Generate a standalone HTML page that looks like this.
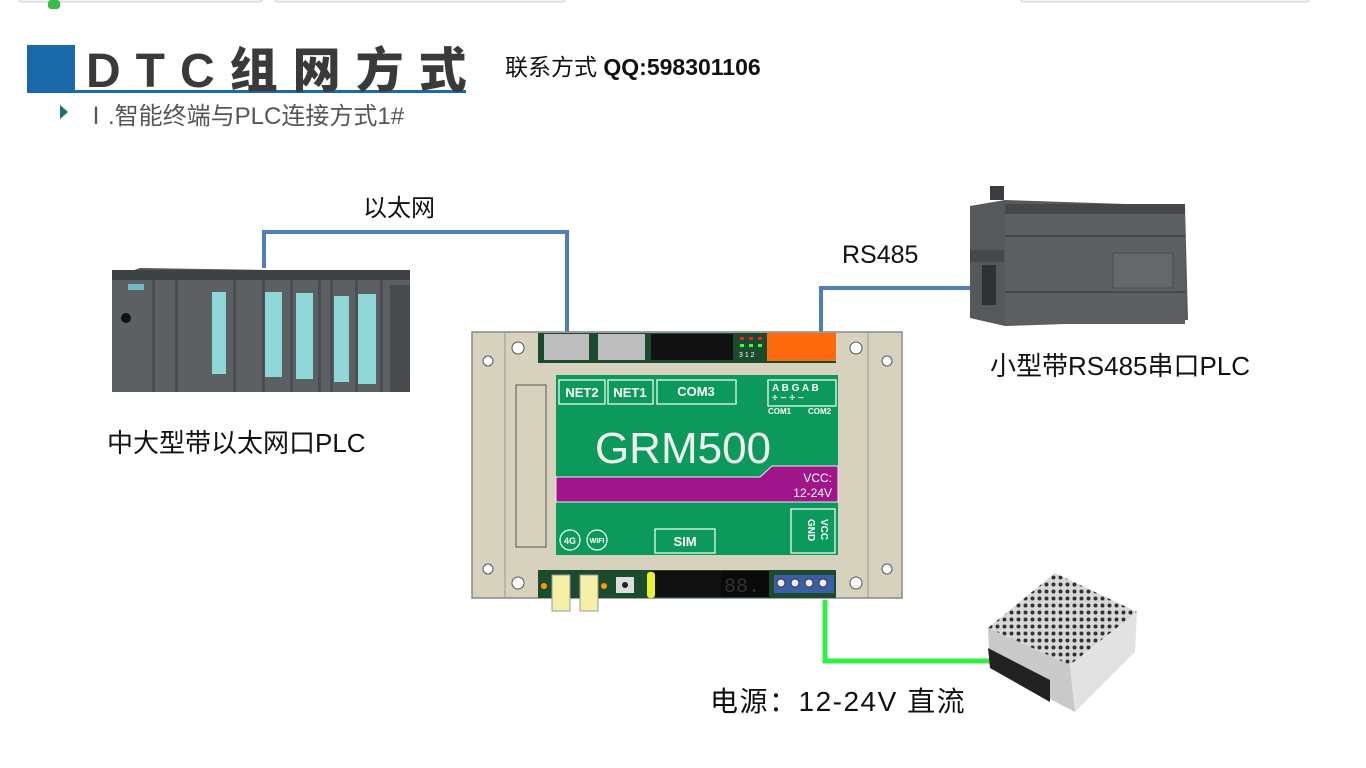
<!DOCTYPE html>
<html><head><meta charset="utf-8"><style>
html,body{margin:0;padding:0;background:#fff;}
body{width:1366px;height:768px;position:relative;overflow:hidden;font-family:"Liberation Sans","Noto Sans CJK SC",sans-serif;}
.t{position:absolute;white-space:nowrap;color:#111;}
</style></head><body>
<svg width="1366" height="768" style="position:absolute;left:0;top:0" xmlns="http://www.w3.org/2000/svg">
<defs>
<pattern id="holes" width="7" height="7" patternUnits="userSpaceOnUse"><rect width="7" height="7" fill="#d8d8d8"/><circle cx="3.5" cy="3.5" r="2" fill="#333"/></pattern>
</defs>
<rect x="18" y="-6" width="245" height="8" rx="4" fill="#f4f4f4" stroke="#ccc"/>
<rect x="274" y="-6" width="292" height="8" rx="4" fill="#f4f4f4" stroke="#ccc"/>
<rect x="1020" y="-6" width="290" height="8" rx="4" fill="#f4f4f4" stroke="#ccc"/>
<rect x="48" y="0" width="12" height="9" rx="3" fill="#3cbb4a"/>
<rect x="27" y="45" width="48" height="47" fill="#1a6aab"/>
<rect x="27" y="90" width="439" height="3" fill="#1a6aab"/>
<polygon points="60,105 68,112 60,119" fill="#1f6f74"/>
<polyline points="264,268 264,232 567,232 567,332" fill="none" stroke="#4f7fb8" stroke-width="4"/>
<polyline points="821,332 821,288 982,288" fill="none" stroke="#4f7fb8" stroke-width="4"/>
<polyline points="825,600 825,661 992,661" fill="none" stroke="#33ee44" stroke-width="5"/>
<polygon points="112,278 140,268 400,272 410,285 410,392 112,392" fill="#55595c"/>
<rect x="112" y="278" width="298" height="114" fill="#5c6063"/>
<rect x="112" y="270" width="298" height="10" fill="#3e4244"/>
<g fill="#4a4e51"><rect x="152" y="280" width="3" height="112"/><rect x="175" y="280" width="3" height="112"/><rect x="233" y="280" width="3" height="112"/><rect x="262" y="280" width="3" height="112"/><rect x="290" y="280" width="3" height="112"/><rect x="318" y="280" width="3" height="112"/><rect x="330" y="280" width="3" height="112"/><rect x="355" y="280" width="3" height="112"/><rect x="380" y="280" width="3" height="112"/></g>
<g fill="#8fd6d6"><rect x="212" y="292" width="14" height="82"/><rect x="265" y="292" width="17" height="85"/><rect x="296" y="293" width="17" height="86"/><rect x="334" y="296" width="15" height="86"/><rect x="358" y="294" width="18" height="90"/></g>
<rect x="128" y="284" width="16" height="6" fill="#6fb8c8"/>
<circle cx="126" cy="318" r="5" fill="#111"/>
<rect x="390" y="285" width="20" height="107" fill="#474b4e"/>
<rect x="990" y="186" width="14" height="14" fill="#3a3d3f"/>
<polygon points="970,206 1005,200 1185,206 1188,320 1005,326 970,318" fill="#55595b"/>
<rect x="1005" y="206" width="180" height="118" fill="#5c6062"/>
<rect x="1005" y="204" width="180" height="10" fill="#454849"/>
<line x1="1005" y1="236" x2="1185" y2="236" stroke="#454849" stroke-width="2"/>
<line x1="1005" y1="292" x2="1185" y2="292" stroke="#454849" stroke-width="2"/>
<rect x="1113" y="253" width="60" height="35" fill="#64686a" stroke="#4a4d4f"/>
<rect x="970" y="250" width="34" height="12" fill="#45484a"/>
<rect x="982" y="265" width="14" height="40" fill="#2f3233"/>
<polygon points="988,628 1055,573 1137,612 1070,665" fill="url(#holes)"/>
<polygon points="988,628 1070,665 1075,712 990,668" fill="#c9c9c9"/>
<polygon points="1070,665 1137,612 1135,652 1075,712" fill="#e2e2e2"/>
<polygon points="988,648 1050,680 1050,702 990,668" fill="#222"/>
<rect x="472" y="332" width="430" height="266" fill="#d6d2bd" stroke="#888" stroke-width="1.5"/>
<line x1="505" y1="332" x2="505" y2="598" stroke="#999"/>
<line x1="868" y1="332" x2="868" y2="598" stroke="#999"/>
<rect x="516" y="385" width="30" height="162" fill="#d6d2bd" stroke="#555"/>
<g fill="#fff" stroke="#555"><circle cx="518" cy="348" r="6"/><circle cx="856" cy="348" r="6"/><circle cx="518" cy="583" r="6"/><circle cx="856" cy="583" r="6"/><circle cx="488" cy="361" r="5"/><circle cx="887" cy="361" r="5"/><circle cx="488" cy="569" r="5"/><circle cx="887" cy="569" r="5"/></g>
<rect x="538" y="333" width="298" height="30" fill="#1c4a2f"/>
<rect x="544" y="334" width="45" height="26" fill="#bdbdbd"/>
<rect x="598" y="334" width="47" height="26" fill="#bdbdbd"/>
<rect x="651" y="334" width="82" height="26" fill="#111"/>
<rect x="767" y="333" width="69" height="28" fill="#ff6a0e"/>
<g fill="#e22"><rect x="740" y="337" width="4" height="3"/><rect x="749" y="337" width="4" height="3"/><rect x="758" y="337" width="4" height="3"/></g>
<g fill="#3f3"><rect x="740" y="344" width="4" height="3"/><rect x="749" y="344" width="4" height="3"/><rect x="758" y="344" width="4" height="3"/></g>
<text x="739" y="357" font-size="7" fill="#fff" font-family="Liberation Sans">3 1 2</text>
<rect x="556" y="375" width="282" height="180" fill="#0b9a5c"/>
<polygon points="556,477 760,477 772,466 838,466 838,502 556,502" fill="#a0168a" stroke="#eee"/>
<g fill="none" stroke="#fff" stroke-width="1.2"><rect x="559" y="380" width="46" height="24"/><rect x="608" y="380" width="45" height="24"/><rect x="657" y="380" width="79" height="24"/><rect x="768" y="380" width="68" height="26"/><rect x="791" y="509" width="44" height="44"/><rect x="655" y="529" width="60" height="24"/><circle cx="570" cy="540" r="10"/><circle cx="597" cy="540" r="10"/></g>
<g font-family="Liberation Sans" font-weight="bold" fill="#fff">
<text x="582" y="397" font-size="13" text-anchor="middle">NET2</text>
<text x="630" y="397" font-size="13" text-anchor="middle">NET1</text>
<text x="696" y="396" font-size="13" text-anchor="middle">COM3</text>
<text x="685" y="546" font-size="13" text-anchor="middle">SIM</text>
<text x="772" y="391" font-size="10">A B G A B</text>
<text x="772" y="401" font-size="10">+ −   + −</text>
<text x="768" y="414" font-size="8">COM1</text><text x="808" y="414" font-size="8">COM2</text>
<text x="570" y="544" font-size="9" text-anchor="middle">4G</text>
<text x="597" y="543" font-size="7" text-anchor="middle">WIFI</text>
<text x="0" y="0" font-size="10" transform="translate(821,519) rotate(90)">VCC</text>
<text x="0" y="0" font-size="10" transform="translate(808,519) rotate(90)">GND</text>
</g>
<text x="683" y="463" font-size="44" fill="#f0f0f0" text-anchor="middle" font-family="Liberation Sans">GRM500</text>
<text x="832" y="482" font-size="12" fill="#fff" text-anchor="end" font-family="Liberation Sans">VCC:</text>
<text x="832" y="497" font-size="12" fill="#fff" text-anchor="end" font-family="Liberation Sans">12-24V</text>
<rect x="538" y="570" width="298" height="28" fill="#1c4a2f"/>
<rect x="652" y="571" width="100" height="26" fill="#111"/>
<rect x="721" y="571" width="48" height="26" fill="#0a0a0a"/>
<text x="724" y="592" font-size="20" fill="#333" font-family="Liberation Mono">88.</text>
<rect x="647" y="572" width="8" height="26" rx="3" fill="#ee3"/>
<rect x="552" y="575" width="18" height="36" fill="#f6f0a6" stroke="#999"/>
<rect x="580" y="575" width="18" height="36" fill="#f6f0a6" stroke="#999"/>
<circle cx="544" cy="586" r="3" fill="#f90"/><circle cx="604" cy="586" r="3" fill="#f90"/>
<rect x="616" y="577" width="18" height="16" fill="#ddd"/><circle cx="625" cy="585" r="3" fill="#222"/>
<rect x="774" y="575" width="60" height="18" fill="#3a5fa8"/>
<g fill="#eee" stroke="#333"><circle cx="781" cy="583" r="4"/><circle cx="795" cy="583" r="4"/><circle cx="809" cy="583" r="4"/><circle cx="823" cy="583" r="4"/></g>
</svg>
<div class="t" style="left:86px;top:31px;font-size:48px;font-weight:900;color:#3a3a3a;letter-spacing:15px;">DTC组网方式</div>
<div class="t" style="left:505px;top:48px;font-size:23px;">联系方式 <b>QQ:598301106</b></div>
<div class="t" style="left:84px;top:96px;font-size:24px;color:#555;">Ⅰ.智能终端与PLC连接方式1#</div>
<div class="t" style="left:363px;top:188px;font-size:24px;">以太网</div>
<div class="t" style="left:842px;top:241px;font-size:25px;">RS485</div>
<div class="t" style="left:990px;top:346px;font-size:26px;">小型带RS485串口PLC</div>
<div class="t" style="left:107px;top:423px;font-size:26px;">中大型带以太网口PLC</div>
<div class="t" style="left:710px;top:680px;font-size:28px;letter-spacing:1.5px;">电源：12-24V 直流</div>
</body></html>
